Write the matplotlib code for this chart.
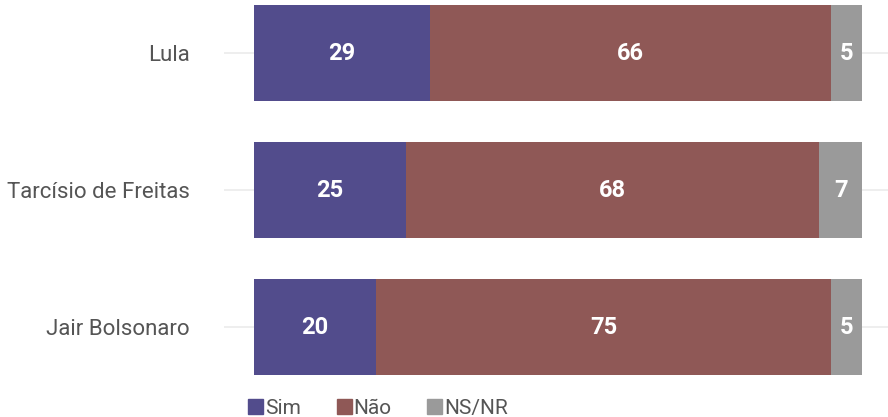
import numpy as np
import matplotlib.pyplot as plt
from matplotlib.patches import Patch

plt.rcParams['font.family'] = ['Roboto', 'DejaVu Sans']

candidatos = ['Lula', 'Tarcísio de Freitas', 'Jair Bolsonaro']
sim = [29, 25, 20]
nao = [66, 68, 75]
nsnr = [5, 7, 5]
series = ['Sim', 'Não', 'NS/NR']
cores = ['#524c8c', '#8f5856', '#9a9a9a']

fig = plt.figure(figsize=(8.88, 4.17), dpi=100)
ax = fig.add_axes([224 / 888, 32 / 417, 664 / 888, 385 / 417])

y = np.arange(len(candidatos))
left = np.zeros(len(candidatos))
for vals, nome, cor in zip([sim, nao, nsnr], series, cores):
    vals = np.array(vals)
    ax.barh(y, vals, left=left, height=0.7, color=cor, label=nome, zorder=2)
    for yi, l, v in zip(y, left, vals):
        ax.text(l + v / 2, yi, str(v), ha='center', va='center',
                color='white', fontsize=17, fontweight='bold', zorder=3)
    left = left + vals

# linhas de grade horizontais
for yi in y:
    ax.axhline(yi, color='#ebebeb', lw=1.2, zorder=1)

ax.set_xlim(-4.93, 104.3)
ax.set_ylim(2.42, -0.387)
ax.set_yticks(y)
ax.set_yticklabels(candidatos, fontsize=16, color='#555555')
ax.tick_params(axis='y', length=0, pad=24.5)
ax.set_xticks([])
for s in ax.spines.values():
    s.set_visible(False)

handles = [Patch(color=c, label=n) for n, c in zip(series, cores)]
fig.legend(handles=handles, loc='lower left', bbox_to_anchor=(244 / 888, -0.012),
           ncol=3, frameon=False, prop={'size': 15},
           handlelength=0.72, handleheight=0.72,
           handletextpad=0.1, columnspacing=1.7, labelcolor='#555555',
           borderaxespad=0, borderpad=0.2)

fig.savefig('out.png', dpi=100)
